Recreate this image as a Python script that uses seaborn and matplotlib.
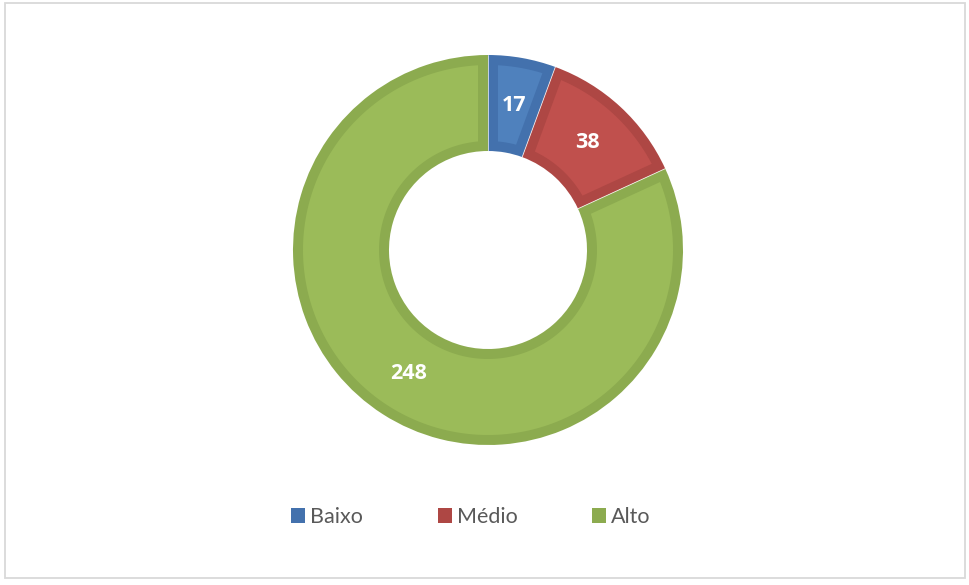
import matplotlib
matplotlib.use("Agg")
import matplotlib.pyplot as plt
import seaborn as sns
import numpy as np
from matplotlib.patches import Patch, Rectangle, Polygon

categories = ["Baixo", "Médio", "Alto"]
values = [17, 38, 248]
fill_colors = ["#4F81BD", "#C0504D", "#9BBB59"]
edge_colors = ["#4371AD", "#AE4744", "#8CAB4F"]

sns.set_theme(style="white")
plt.rcParams["font.family"] = ["Lato", "DejaVu Sans"]

fig = plt.figure(figsize=(9.7, 5.85), dpi=100)
ax = fig.add_axes([0, 0, 1, 1])

center = (488, 335)
R = 195
W = 96
D = 10  # inner border width (px)

wedges, _ = ax.pie(values, colors=sns.color_palette(edge_colors), startangle=90,
                   counterclock=False, radius=R, center=center, frame=True,
                   wedgeprops=dict(width=W, linewidth=0))
ax.set_xlim(0, 970)
ax.set_ylim(0, 585)
ax.axis("off")
ax.set_aspect("equal")

# frame
ax.add_patch(Rectangle((5, 7), 960, 575, fill=False, edgecolor="#D9D9D9", linewidth=1.3))

# lighter inner fill of each wedge (inset by D px)
for w, fc in zip(wedges, fill_colors):
    t1, t2 = np.deg2rad(w.theta1), np.deg2rad(w.theta2)
    ro, ri = R - D, R - W + D
    ao, ai = np.arcsin(D / ro), np.arcsin(D / ri)
    outer = np.linspace(t1 + ao, t2 - ao, 200)
    inner = np.linspace(t2 - ai, t1 + ai, 200)
    pts = np.concatenate([
        np.column_stack([center[0] + ro * np.cos(outer), center[1] + ro * np.sin(outer)]),
        np.column_stack([center[0] + ri * np.cos(inner), center[1] + ri * np.sin(inner)]),
    ])
    ax.add_patch(Polygon(pts, closed=True, facecolor=fc, edgecolor="none"))

# thin white separators
for w in wedges:
    a = np.deg2rad(w.theta1)
    r0, r1 = R - W, R
    ax.plot([center[0] + r0 * np.cos(a), center[0] + r1 * np.cos(a)],
            [center[1] + r0 * np.sin(a), center[1] + r1 * np.sin(a)],
            color="white", linewidth=0.6, alpha=0.8)

# labels
rm = R - W / 2
for w, v in zip(wedges, values):
    mid = np.deg2rad((w.theta1 + w.theta2) / 2)
    ax.text(center[0] + rm * np.cos(mid), center[1] + rm * np.sin(mid), str(v),
            ha="center", va="center", color="white", fontsize=15.5,
            fontweight="bold", family=["Open Sans", "DejaVu Sans"])

handles = [Patch(facecolor=c, edgecolor="none") for c in edge_colors]
leg = ax.legend(handles, categories, loc="center", bbox_to_anchor=(471 / 970, 1 - 517 / 585),
                bbox_transform=fig.transFigure, ncol=3, frameon=False, fontsize=15.5,
                handlelength=0.65, handleheight=0.65, handletextpad=0.25, columnspacing=3.45,
                labelcolor="#595959")

fig.savefig("out.png", dpi=100, facecolor="white")
